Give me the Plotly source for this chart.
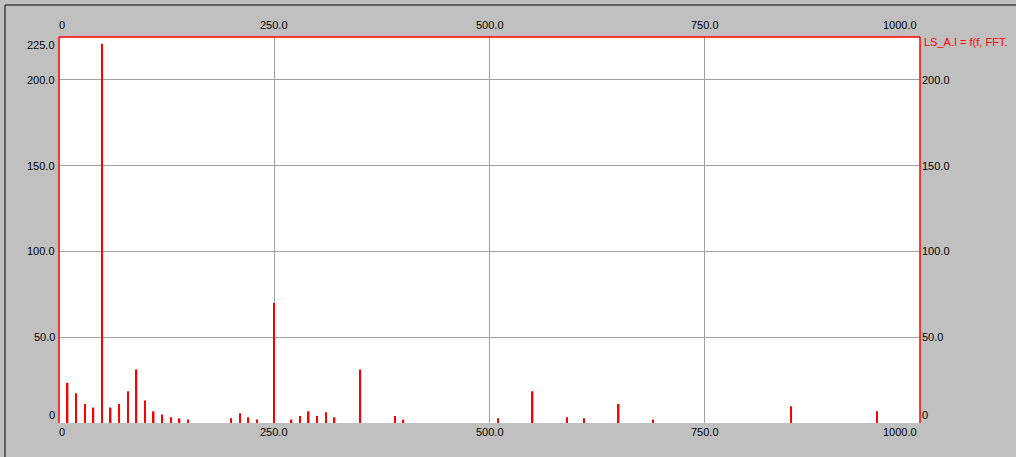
import plotly.graph_objects as go

# ---- data ----
freq = [10, 20, 30, 40, 50, 60, 70, 80, 90, 100, 110, 120, 130, 140, 150,
        200, 210, 220, 230, 250, 270, 280, 290, 300, 310, 320, 350, 390, 400,
        510, 550, 590, 610, 650, 690, 850, 950]
amp = [23.4, 17.4, 11.1, 9.0, 221.0, 9.0, 11.1, 18.5, 31.2, 13.1, 6.8, 4.9, 3.3, 2.7, 2.0,
       2.7, 5.7, 3.3, 2.0, 70.0, 2.0, 4.1, 6.8, 4.1, 6.2, 3.3, 31.2, 4.1, 2.0,
       2.7, 18.5, 3.3, 2.7, 11.1, 2.0, 9.8, 6.8]

x_ticks = [0, 250, 500, 750, 1000]
x_labels = ["0", "250.0", "500.0", "750.0", "1000.0"]
y_left_ticks = [0, 50, 100, 150, 200, 225]
y_left_labels = ["0", "50.0", "100.0", "150.0", "200.0", "225.0"]
y_right_ticks = [0, 50, 100, 150, 200]
y_right_labels = ["0", "50.0", "100.0", "150.0", "200.0"]
x_grid = [250, 500, 750]
y_grid = [50, 100, 150, 200]
series_name = "LS_A.I = f(f, FFT."

RED = "#ff0000"
GRID = "#a0a0a0"
BG = "#c0c0c0"
FONT = dict(family="Liberation Sans, Arial, sans-serif", size=11, color="#000000")

fig = go.Figure()
fig.add_trace(go.Bar(x=freq, y=amp, width=1.8,
                     marker=dict(color=RED, line=dict(width=0)),
                     showlegend=False, hoverinfo="x+y"))

annotations = []
# x tick labels, top and bottom
for i, (v, t) in enumerate(zip(x_ticks, x_labels)):
    if i == 0:
        anchor, xs = "left", -2
    elif i == len(x_ticks) - 1:
        anchor, xs = "right", -1
    else:
        anchor, xs = "center", 0
    annotations.append(dict(x=v, y=0, xref="x", yref="paper", text=t, showarrow=False,
                            xanchor=anchor, xshift=xs, yanchor="top", yshift=-1, font=FONT))
    annotations.append(dict(x=v, y=1, xref="x", yref="paper", text=t, showarrow=False,
                            xanchor=anchor, xshift=xs, yanchor="bottom", yshift=4, font=FONT))
# y tick labels left
for i, (v, t) in enumerate(zip(y_left_ticks, y_left_labels)):
    anchor = "bottom" if i == 0 else ("top" if i == len(y_left_ticks) - 1 else "middle")
    annotations.append(dict(x=0, y=v, xref="paper", yref="y", text=t, showarrow=False,
                            xanchor="right", yanchor=anchor, xshift=-2, font=FONT))
# y tick labels right
for i, (v, t) in enumerate(zip(y_right_ticks, y_right_labels)):
    anchor = "bottom" if i == 0 else "middle"
    annotations.append(dict(x=1, y=v, xref="paper", yref="y", text=t, showarrow=False,
                            xanchor="left", yanchor=anchor, xshift=0, font=FONT))
# series label
annotations.append(dict(x=1, y=1, xref="paper", yref="paper", text=series_name,
                        showarrow=False, xanchor="left", yanchor="middle", xshift=2, yshift=-5,
                        font=dict(family=FONT["family"], size=11, color=RED)))

shapes = [
    # plot border (top, left, right)
    dict(type="line", xref="paper", yref="paper", x0=0, x1=1, y0=1, y1=1,
         line=dict(color=RED, width=1.5)),
    dict(type="line", xref="paper", yref="paper", x0=0, x1=0, y0=0, y1=1,
         line=dict(color=RED, width=1.5)),
    dict(type="line", xref="paper", yref="paper", x0=1, x1=1, y0=0, y1=1,
         line=dict(color=RED, width=1.5)),
    # outer panel frame (left and top)
    dict(type="line", xref="paper", yref="paper", x0=-0.0627, x1=-0.0627, y0=-0.1, y1=1.083,
         line=dict(color="#404040", width=1.5)),
    dict(type="line", xref="paper", yref="paper", x0=-0.0627, x1=1.12, y0=1.083, y1=1.083,
         line=dict(color="#404040", width=1.5)),
]

fig.update_layout(
    width=1016, height=457,
    margin=dict(l=59, r=96, t=37, b=34),
    paper_bgcolor=BG, plot_bgcolor="#ffffff",
    font=FONT,
    showlegend=False,
    annotations=annotations,
    shapes=shapes,
    xaxis=dict(range=[0, 1000], tickvals=x_grid, showticklabels=False, ticks="",
               showgrid=True, gridcolor=GRID, gridwidth=1, zeroline=False, showline=False,
               fixedrange=True),
    yaxis=dict(range=[0, 225], tickvals=y_grid, showticklabels=False, ticks="",
               showgrid=True, gridcolor=GRID, gridwidth=1, zeroline=False, showline=False,
               fixedrange=True),
)

fig.write_html("out.html", config={"displayModeBar": False},
               post_script="document.body.style.margin='0';document.body.style.background='#c0c0c0';")
